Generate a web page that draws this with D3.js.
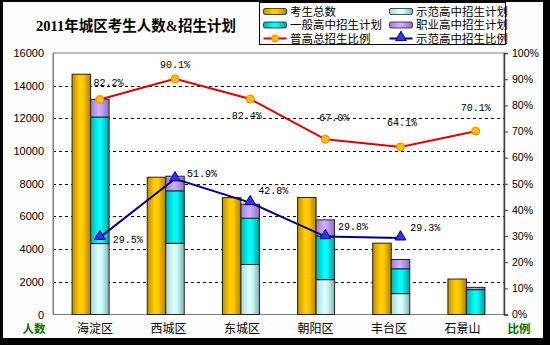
<!DOCTYPE html>
<html><head><meta charset="utf-8">
<script src="https://cdn.jsdelivr.net/npm/d3@7"></script>
<style>body{margin:0;background:#000;} svg{display:block}</style>
</head><body>
<script>
// ---- data ----
const categories = ["海淀区","西城区","东城区","朝阳区","丰台区","石景山"];
const totalStudents  = [14700, 8400, 7150, 7160, 4365, 2170];
const demoPlan       = [4340, 4360, 3060, 2134, 1279, 0];
const generalPlan    = [7743, 3208, 2830, 2663, 1519, 1520];
const vocationalPlan = [1087, 892, 860, 993, 565, 140];
const highRatio      = [82.2, 90.1, 82.4, 67.0, 64.1, 70.1];
const demoRatio      = [29.5, 51.9, 42.8, 29.8, 29.3, null];
const leftTicks  = [0, 2000, 4000, 6000, 8000, 10000, 12000, 14000, 16000];
const rightTicks = [0, 10, 20, 30, 40, 50, 60, 70, 80, 90, 100];
const legendNames = ["考生总数","示范高中招生计划","一般高中招生计划","职业高中招生计划","普高总招生比例","示范高中招生比例"];
const titleText = "2011年城区考生人数&招生计划";

// ---- layout ----
const W = 550, H = 345;
const plot = {l: 53, r: 504, t: 53, b: 314.5};
const bw = 18.5;
const highLabelOff = [[8.7,-17.3],[0,-14.7],[-3.3,16.3],[9,-21.7],[1.6,-24],[0,-23.4]];
const demoLabelOff = [[13,2.4],[12,-5],[8,-11.7],[12.6,-10],[9.7,-10.6],[0,0]];

const svg = d3.select("body").append("svg").attr("width", W).attr("height", H);
svg.append("rect").attr("width", W).attr("height", H).attr("fill", "#000");
svg.append("rect").attr("x", 3).attr("y", 2).attr("width", 540).attr("height", 336).attr("fill", "#fdfdfd");

const defs = svg.append("defs");
function grad(id, stops) {
  const g = defs.append("linearGradient").attr("id", id).attr("x1", "0").attr("x2", "1").attr("y1", "0").attr("y2", "0");
  stops.forEach(s => g.append("stop").attr("offset", s[0]).attr("stop-color", s[1]));
}
grad("gGold",   [[0,"#c08c00"],[0.4,"#ffd000"],[0.6,"#ffc800"],[1,"#b08000"]]);
grad("gLight",  [[0,"#a8d8d8"],[0.45,"#dcffff"],[0.6,"#d0fafa"],[1,"#80b4b4"]]);
grad("gCyan",   [[0,"#00b0b0"],[0.45,"#00ffff"],[0.6,"#10f4f4"],[1,"#009c9c"]]);
grad("gPurple", [[0,"#9c7cd0"],[0.45,"#d0b0ff"],[0.6,"#c4a0f8"],[1,"#8c6cc0"]]);

const x = d3.scaleBand().domain(categories).range([plot.l, plot.r]).padding(0);
const xLabel = d3.scalePoint().domain(categories).range([95, 462.5]);
const yL = d3.scaleLinear().domain([0, 16000]).range([plot.b, plot.t]);
const yR = d3.scaleLinear().domain([0, 100]).range([plot.b, plot.t]);
const cx = c => x(c) + x.bandwidth() / 2;

// plot area
svg.append("rect").attr("x", plot.l).attr("y", plot.t).attr("width", plot.r - plot.l).attr("height", plot.b - plot.t)
  .attr("fill", "#fff").attr("stroke", "#808080").attr("stroke-width", 1);

// gridlines
svg.append("g").selectAll("line").data(leftTicks.filter(t => t > 0 && t < 16000)).join("line")
  .attr("x1", plot.l).attr("x2", plot.r).attr("y1", d => Math.round(yL(d)) + 0.5).attr("y2", d => Math.round(yL(d)) + 0.5)
  .attr("stroke", "#000").attr("stroke-dasharray", "3,3").attr("stroke-width", 1);

// left axis
const axL = svg.append("g").attr("transform", `translate(${plot.l},0)`)
  .call(d3.axisLeft(yL).tickValues(leftTicks).tickSize(0).tickPadding(9).tickFormat(d3.format("d")));
axL.select(".domain").attr("stroke", "#808080");
axL.selectAll("text").attr("font-family", "Liberation Sans, Arial, sans-serif").attr("font-size", 11).attr("fill", "#000");

// right axis
const axR = svg.append("g").attr("transform", `translate(${plot.r},0)`)
  .call(d3.axisRight(yR).tickValues(rightTicks).tickSize(4).tickPadding(4).tickFormat(d => d + "%"));
axR.select(".domain").attr("stroke", "#404040").attr("stroke-width", 1.5);
axR.selectAll(".tick line").attr("stroke", "#404040");
axR.selectAll("text").attr("font-family", "Liberation Sans, Arial, sans-serif").attr("font-size", 10.5).attr("fill", "#000");

// bars: total
svg.append("g").selectAll("rect").data(categories).join("rect")
  .attr("x", c => cx(c) - bw).attr("width", bw)
  .attr("y", (c, i) => yL(totalStudents[i])).attr("height", (c, i) => yL(0) - yL(totalStudents[i]))
  .attr("fill", "url(#gGold)").attr("stroke", "#222").attr("stroke-width", 1);

// stacked plans
const rows = categories.map((c, i) => ({cat: c, demo: demoPlan[i], general: generalPlan[i], voc: vocationalPlan[i]}));
const stack = d3.stack().keys(["demo", "general", "voc"])(rows);
const fills = {demo: "url(#gLight)", general: "url(#gCyan)", voc: "url(#gPurple)"};
stack.forEach(layer => {
  svg.append("g").selectAll("rect").data(layer.filter(d => d[1] - d[0] > 0)).join("rect")
    .attr("x", d => cx(d.data.cat)).attr("width", bw)
    .attr("y", d => yL(d[1])).attr("height", d => yL(d[0]) - yL(d[1]))
    .attr("fill", fills[layer.key]).attr("stroke", "#222").attr("stroke-width", 1);
});

// lines
const mx = c => cx(c) + bw / 2;
const highPts = categories.map((c, i) => ({c, v: highRatio[i], i}));
const demoPts = categories.map((c, i) => ({c, v: demoRatio[i], i})).filter(d => d.v != null);
const line = d3.line().x(d => mx(d.c)).y(d => yR(d.v));
svg.append("path").datum(highPts).attr("d", line).attr("fill", "none").attr("stroke", "#e00000").attr("stroke-width", 2);
svg.append("path").datum(demoPts).attr("d", line).attr("fill", "none").attr("stroke", "#000080").attr("stroke-width", 2);

svg.append("g").selectAll("circle").data(highPts).join("circle")
  .attr("cx", d => mx(d.c)).attr("cy", d => yR(d.v)).attr("r", 4)
  .attr("fill", "#ffc000").attr("stroke", "#ff8000").attr("stroke-width", 1);
const tri = d3.symbol().type(d3.symbolTriangle).size(50);
svg.append("g").selectAll("path").data(demoPts).join("path")
  .attr("d", tri).attr("transform", d => `translate(${mx(d.c)},${yR(d.v) - 1})`)
  .attr("fill", "#3030ff").attr("stroke", "#000080").attr("stroke-width", 1);

// data labels
const lblFont = "Liberation Mono, DejaVu Sans Mono, monospace";
svg.append("g").selectAll("text").data(highPts).join("text")
  .attr("x", d => mx(d.c) + highLabelOff[d.i][0]).attr("y", d => yR(d.v) + highLabelOff[d.i][1])
  .attr("dy", "0.35em").attr("text-anchor", "middle")
  .attr("font-family", lblFont).attr("font-size", 10).attr("fill", "#000")
  .text(d => d.v.toFixed(1) + "%");
svg.append("g").selectAll("text").data(demoPts).join("text")
  .attr("x", d => mx(d.c) + demoLabelOff[d.i][0]).attr("y", d => yR(d.v) + demoLabelOff[d.i][1])
  .attr("dy", "0.35em").attr("text-anchor", "start")
  .attr("font-family", lblFont).attr("font-size", 10).attr("fill", "#000")
  .text(d => d.v.toFixed(1) + "%");

// category labels
const cjk = "'Liberation Sans', 'Noto Sans CJK SC', sans-serif";
svg.append("g").selectAll("text").data(categories).join("text")
  .attr("x", c => xLabel(c)).attr("y", 328.5).attr("dy", "0.35em").attr("text-anchor", "middle")
  .attr("font-family", cjk).attr("font-size", 12).attr("fill", "#000").text(c => c);

// axis titles
svg.append("text").attr("x", 34).attr("y", 329).attr("dy", "0.35em").attr("text-anchor", "middle")
  .attr("font-family", cjk).attr("font-size", 11.5).attr("font-weight", "bold").attr("fill", "#007000").text("人数");
svg.append("text").attr("x", 519).attr("y", 329).attr("dy", "0.35em").attr("text-anchor", "middle")
  .attr("font-family", cjk).attr("font-size", 11.5).attr("font-weight", "bold").attr("fill", "#007000").text("比例");

// title
svg.append("text").attr("x", 136).attr("y", 26).attr("dy", "0.35em").attr("text-anchor", "middle")
  .attr("font-family", "'Liberation Serif', 'Noto Sans CJK SC', serif").attr("font-size", 14.5).attr("font-weight", "bold")
  .attr("fill", "#000").text(titleText);

// legend
const lg = svg.append("g");
lg.append("rect").attr("x", 259.5).attr("y", 2.5).attr("width", 246).attr("height", 42).attr("fill", "#fff").attr("stroke", "#000");
const legendItems = [
  {name: legendNames[0], kind: "bar", fill: "url(#gGold)", col: 0, row: 0},
  {name: legendNames[1], kind: "bar", fill: "url(#gLight)", col: 1, row: 0},
  {name: legendNames[2], kind: "bar", fill: "url(#gCyan)", col: 0, row: 1},
  {name: legendNames[3], kind: "bar", fill: "url(#gPurple)", col: 1, row: 1},
  {name: legendNames[4], kind: "circle", col: 0, row: 2},
  {name: legendNames[5], kind: "tri", col: 1, row: 2}
];
const colX = [263.5, 389.5], rowY = [11.5, 25, 38.5];
legendItems.forEach(it => {
  const x0 = colX[it.col], y0 = rowY[it.row];
  if (it.kind === "bar") {
    lg.append("rect").attr("x", x0).attr("y", y0 - 3).attr("width", 23).attr("height", 6).attr("rx", 1.5)
      .attr("fill", it.fill).attr("stroke", "#222").attr("stroke-width", 0.8);
  } else if (it.kind === "circle") {
    lg.append("line").attr("x1", x0).attr("x2", x0 + 23).attr("y1", y0).attr("y2", y0).attr("stroke", "#e00000").attr("stroke-width", 2);
    lg.append("circle").attr("cx", x0 + 11.5).attr("cy", y0).attr("r", 3.5).attr("fill", "#ffc000").attr("stroke", "#ff8000");
  } else {
    lg.append("line").attr("x1", x0).attr("x2", x0 + 23).attr("y1", y0).attr("y2", y0).attr("stroke", "#000080").attr("stroke-width", 2);
    lg.append("path").attr("d", tri).attr("transform", `translate(${x0 + 11.5},${y0 - 1})`).attr("fill", "#3030ff").attr("stroke", "#000080");
  }
  lg.append("text").attr("x", x0 + 26.5).attr("y", y0).attr("dy", "0.35em")
    .attr("font-family", cjk).attr("font-size", 11.5).attr("fill", "#000").text(it.name);
});
</script>
</body></html>
